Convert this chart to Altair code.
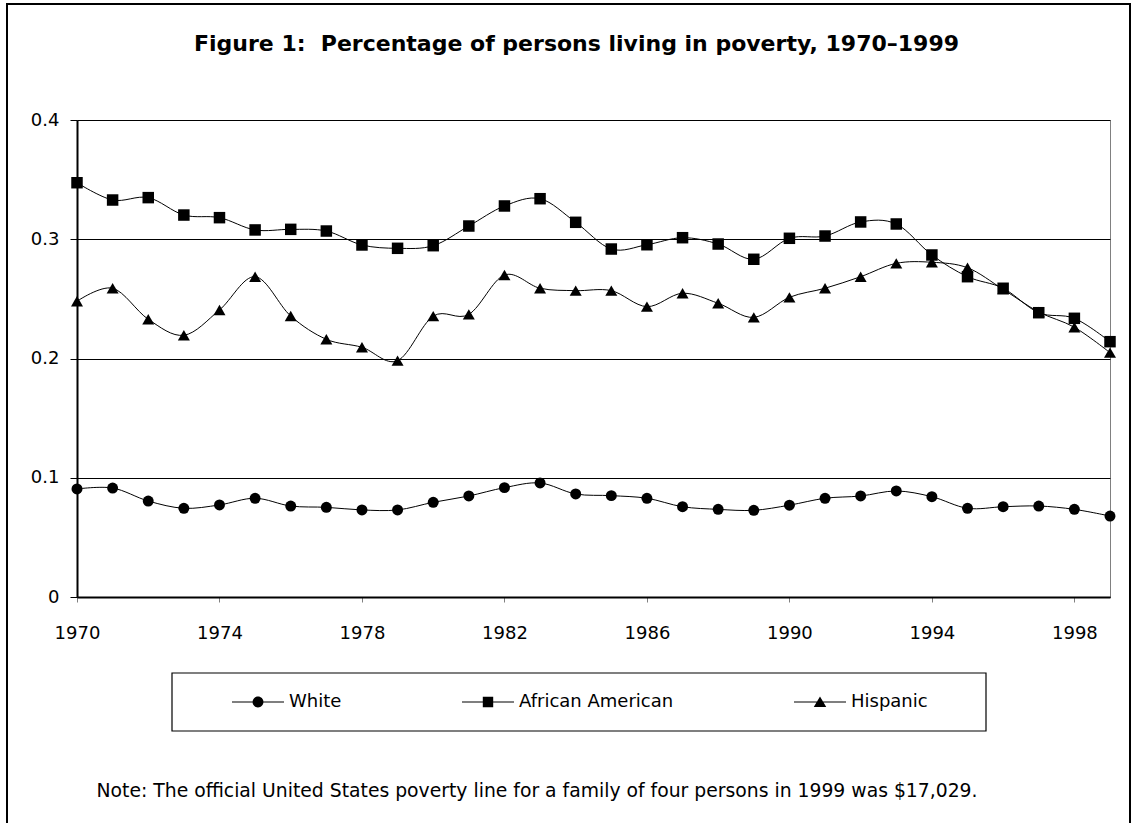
import altair as alt
import pandas as pd

FONT = "DejaVu Sans"

# Poverty rates, 1970-1999
years = list(range(1970, 2000))
white = [0.0906, 0.0914, 0.0805, 0.0744, 0.0772, 0.0828, 0.0763, 0.0752, 0.0730, 0.0730,
         0.0794, 0.0847, 0.0917, 0.0956, 0.0864, 0.0850, 0.0828, 0.0757, 0.0735, 0.0727,
         0.0770, 0.0828, 0.0847, 0.0889, 0.0841, 0.0744, 0.0757, 0.0763, 0.0735, 0.0679]
african_american = [0.3474, 0.3329, 0.3349, 0.3203, 0.3181, 0.3078, 0.3083, 0.3069, 0.2952, 0.2924,
                     0.2946, 0.3111, 0.3279, 0.3340, 0.3142, 0.2918, 0.2954, 0.3013, 0.2960, 0.2832,
                     0.3008, 0.3027, 0.3145, 0.3128, 0.2868, 0.2686, 0.2589, 0.2384, 0.2337, 0.2141]
hispanic = [0.2480, 0.2589, 0.2329, 0.2195, 0.2407, 0.2686, 0.2356, 0.2161, 0.2094, 0.1982,
            0.2355, 0.2370, 0.2700, 0.2589, 0.2569, 0.2569, 0.2435, 0.2547, 0.2463, 0.2345,
            0.2513, 0.2589, 0.2686, 0.2798, 0.2807, 0.2761, 0.2580, 0.2390, 0.2262, 0.2049]

series_names = ["White", "African American", "Hispanic"]
marker_shapes = ["circle", "square", "triangle-up"]
marker_sizes = [120, 144, 170]

y_ticks = [0, 0.1, 0.2, 0.3, 0.4]
x_ticks = list(range(1970, 2000, 4))

title_text = "Figure 1:\u00a0 Percentage of persons living in poverty, 1970\u20131999"
note_text = ("Note: The official United States poverty line for a family of four "
             "persons in 1999 was $17,029.")

# Legend glyphs in unit coordinates: a thin stroke with the series marker on it
stroke_bar = "M-1,-0.022H1V0.022H-1Z"
legend_glyphs = [
    stroke_bar + "M-0.21,0A0.21,0.21,0,1,1,0.21,0A0.21,0.21,0,1,1,-0.21,0Z",
    stroke_bar + "M-0.2,-0.2H0.2V0.2H-0.2Z",
    stroke_bar + "M0,-0.21L0.24,0.19H-0.24Z",
]

df = pd.DataFrame({
    "year": years * 3,
    "rate": white + african_american + hispanic,
    "series": [name for name in series_names for _ in years],
})

x_enc = alt.X(
    "year:Q",
    scale=alt.Scale(domain=[1970, 1999], nice=False, zero=False),
    axis=alt.Axis(
        values=x_ticks, format="d", grid=False, labelFlush=False,
        tickSize=5, tickColor="#808080", tickWidth=1,
        domainColor="black", domainWidth=2,
        labelPadding=22, labelFontSize=18,
        title=note_text, titleX=19, titleY=193, titleAngle=0,
        titleAlign="left", titleBaseline="middle",
        titleFontSize=18.8, titleFontWeight="normal",
    ),
)
y_enc = alt.Y(
    "rate:Q",
    scale=alt.Scale(domain=[0, 0.4], nice=False),
    axis=alt.Axis(
        values=y_ticks, format=".1~f", labelFlush=False,
        grid=True, gridColor="black", gridWidth=1,
        tickSize=7, tickColor="black", tickWidth=1,
        domainColor="black", domainWidth=2,
        labelPadding=11, labelFontSize=18,
        title=title_text, titleX=499, titleY=-77, titleAngle=0,
        titleAlign="center", titleBaseline="middle",
        titleFontSize=22, titleFontWeight="bold",
    ),
)

base = alt.Chart(df)

lines = base.mark_line(interpolate="cardinal", color="black", strokeWidth=1).encode(
    x=x_enc, y=y_enc, detail="series:N"
)

points = base.mark_point(filled=True, opacity=1, color="black").encode(
    x=x_enc,
    y=y_enc,
    shape=alt.Shape("series:N", scale=alt.Scale(domain=series_names, range=marker_shapes), legend=None),
    size=alt.Size("series:O", scale=alt.Scale(domain=series_names, range=marker_sizes), legend=None),
)

# Legend only: no marks drawn, entries come from the explicit shape domain
legend_layer = base.transform_filter("false").mark_point(
    filled=True, opacity=1, color="black", size=2704
).encode(
    x=x_enc,
    y=y_enc,
    shape=alt.Shape(
        "series:N",
        scale=alt.Scale(domain=series_names, range=legend_glyphs),
        legend=alt.Legend(
            title=None, orient="none", legendX=155, legendY=556,
            direction="horizontal", padding=0, columnPadding=120,
            symbolSize=2704, symbolOpacity=1, symbolFillColor="black",
            symbolStrokeWidth=0, labelOffset=5, labelLimit=400,
            labelFont=FONT, labelFontSize=18, labelColor="black",
        ),
    ),
)

frame_src = pd.DataFrame({"k": [0]})
legend_box = alt.Chart(frame_src).mark_rect(
    fillOpacity=0, stroke="black", strokeWidth=1.2
).encode(x=alt.value(95), x2=alt.value(909), y=alt.value(553), y2=alt.value(611))

outer_frame = alt.Chart(frame_src).mark_rect(
    fillOpacity=0, stroke="black", strokeWidth=2
).encode(x=alt.value(-70), x2=alt.value(1053), y=alt.value(-116), y2=alt.value(720))

chart = (
    alt.layer(lines, points, legend_layer, legend_box, outer_frame)
    .resolve_scale(shape="independent")
    .properties(
        width=1033, height=477,
        autosize=alt.AutoSizeParams(type="none"),
        padding={"left": 77, "top": 120, "right": 25, "bottom": 226},
        background="white",
    )
    .configure_view(stroke="#808080", strokeWidth=1)
    .configure_axis(
        labelFont=FONT, titleFont=FONT, labelColor="black", titleColor="black",
    )
)

chart.save("out.html", embed_options={"renderer": "svg", "actions": False})
